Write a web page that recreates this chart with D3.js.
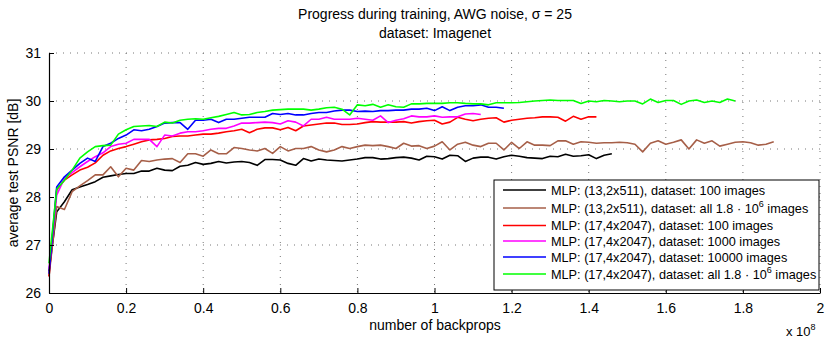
<!DOCTYPE html>
<html>
<head>
<meta charset="utf-8">
<script src="https://cdn.jsdelivr.net/npm/d3@7"></script>
<style>
  body { margin: 0; background: #fff; }
  svg text { font-family: "Liberation Sans", Arial, sans-serif; fill: #000; }
</style>
</head>
<body>
<div id="chart"></div>
<script>
// x spacing between evaluations (in units of 1e8 backprops)
var xStep = 0.02;

var xTicks = [0, 0.2, 0.4, 0.6, 0.8, 1, 1.2, 1.4, 1.6, 1.8, 2];
var yTicks = [26, 27, 28, 29, 30, 31];

var seriesNames = [
    'MLP: (13,2x511), dataset: 100 images',
    'MLP: (13,2x511), dataset: all 1.8 \u00b7 10|6| images',
    'MLP: (17,4x2047), dataset: 100 images',
    'MLP: (17,4x2047), dataset: 1000 images',
    'MLP: (17,4x2047), dataset: 10000 images',
    'MLP: (17,4x2047), dataset: all 1.8 \u00b7 10|6| images'
];
var seriesColors = ['#000000', '#a65f48', '#ff0000', '#ff00ff', '#0000ff', '#00ff00'];

var black = [26.45, 27.69, 27.90, 28.15, 28.21, 28.26, 28.32, 28.41, 28.44, 28.47,
    28.49, 28.49, 28.54, 28.54, 28.60, 28.56, 28.55, 28.64, 28.66, 28.72,
    28.68, 28.70, 28.74, 28.71, 28.73, 28.74, 28.72, 28.66, 28.78, 28.78,
    28.77, 28.70, 28.66, 28.80, 28.75, 28.79, 28.77, 28.76, 28.75, 28.77,
    28.79, 28.82, 28.82, 28.79, 28.80, 28.82, 28.83, 28.81, 28.77, 28.85,
    28.84, 28.79, 28.87, 28.86, 28.74, 28.81, 28.83, 28.83, 28.79, 28.84,
    28.87, 28.85, 28.82, 28.81, 28.80, 28.85, 28.84, 28.89, 28.85, 28.86,
    28.88, 28.80, 28.87, 28.90];

var brown = [26.35, 27.80, 27.74, 28.11, 28.23, 28.34, 28.46, 28.46, 28.63, 28.42,
    28.60, 28.56, 28.76, 28.74, 28.77, 28.79, 28.80, 28.72, 28.90, 28.90,
    28.85, 28.98, 28.90, 28.90, 29.03, 29.01, 28.98, 28.96, 29.01, 28.91,
    29.05, 28.96, 29.01, 29.01, 29.05, 28.98, 28.94, 28.98, 29.05, 29.01,
    29.05, 29.08, 29.07, 29.08, 29.05, 29.01, 29.12, 29.06, 29.07, 29.01,
    29.06, 29.15, 28.98, 29.10, 29.14, 29.08, 29.05, 29.12, 29.12, 28.98,
    29.14, 29.01, 29.15, 29.08, 29.08, 29.07, 29.17, 29.17, 29.10, 29.15,
    29.14, 29.12, 29.13, 29.13, 29.14, 29.13, 29.10, 28.94, 29.12, 29.17,
    29.10, 29.14, 29.19, 29.00, 29.19, 29.12, 29.17, 29.06, 29.10, 29.14,
    29.15, 29.13, 29.08, 29.10, 29.15];

var red = [26.34, 28.15, 28.35, 28.46, 28.56, 28.62, 28.71, 28.87, 28.96, 29.01,
    29.05, 29.10, 29.15, 29.19, 29.20, 29.22, 29.26, 29.27, 29.27, 29.29,
    29.31, 29.31, 29.33, 29.36, 29.38, 29.41, 29.34, 29.41, 29.44, 29.44,
    29.40, 29.45, 29.38, 29.48, 29.50, 29.52, 29.54, 29.54, 29.51, 29.51,
    29.52, 29.55, 29.57, 29.56, 29.56, 29.56, 29.57, 29.54, 29.57, 29.59,
    29.60, 29.52, 29.56, 29.66, 29.62, 29.59, 29.62, 29.64, 29.65, 29.56,
    29.60, 29.62, 29.64, 29.65, 29.67, 29.67, 29.66, 29.58, 29.68, 29.62,
    29.67, 29.67];

var magenta = [26.50, 28.04, 28.39, 28.51, 28.63, 28.74, 28.84, 28.92, 29.05, 29.10,
    29.12, 29.20, 29.20, 29.20, 29.05, 29.29, 29.27, 29.33, 29.36, 29.36,
    29.38, 29.41, 29.43, 29.43, 29.48, 29.54, 29.54, 29.55, 29.56, 29.55,
    29.52, 29.59, 29.56, 29.48, 29.62, 29.62, 29.66, 29.62, 29.62, 29.62,
    29.64, 29.62, 29.60, 29.69, 29.55, 29.60, 29.63, 29.69, 29.67, 29.67,
    29.69, 29.66, 29.67, 29.67, 29.73, 29.74, 29.72];

var blue = [26.40, 28.21, 28.42, 28.56, 28.70, 28.81, 28.74, 29.05, 29.12, 29.22,
    29.29, 29.40, 29.38, 29.41, 29.47, 29.54, 29.55, 29.55, 29.41, 29.60,
    29.60, 29.62, 29.55, 29.62, 29.62, 29.64, 29.66, 29.66, 29.66, 29.74,
    29.72, 29.74, 29.71, 29.71, 29.74, 29.76, 29.76, 29.79, 29.81, 29.81,
    29.78, 29.79, 29.78, 29.80, 29.80, 29.81, 29.81, 29.83, 29.83, 29.85,
    29.80, 29.88, 29.80, 29.87, 29.90, 29.90, 29.92, 29.87, 29.87, 29.85];

var green = [26.62, 28.16, 28.35, 28.56, 28.81, 28.94, 29.05, 29.07, 29.08, 29.31,
    29.40, 29.47, 29.48, 29.49, 29.47, 29.56, 29.54, 29.60, 29.62, 29.63,
    29.62, 29.65, 29.68, 29.72, 29.76, 29.71, 29.72, 29.76, 29.78, 29.81,
    29.82, 29.83, 29.83, 29.83, 29.81, 29.83, 29.86, 29.87, 29.83, 29.71,
    29.92, 29.90, 29.93, 29.87, 29.92, 29.88, 29.87, 29.94, 29.94, 29.95,
    29.95, 29.95, 29.965, 29.965, 29.95, 29.94, 29.94, 29.92, 29.965, 29.965,
    29.965, 29.97, 29.985, 30.00, 30.01, 30.02, 30.01, 30.01, 30.01, 29.95,
    30.00, 29.985, 30.01, 30.00, 29.985, 30.00, 30.00, 29.94, 30.04, 29.97,
    30.01, 30.01, 29.93, 30.00, 30.02, 29.97, 30.00, 29.97, 30.04, 30.00];

var seriesValues = [black, brown, red, magenta, blue, green];

function render() {
    var width = 830,
        height = 338,
        margin = {top: 53, right: 10, bottom: 45, left: 49};
    var plotW = width - margin.left - margin.right,
        plotH = height - margin.top - margin.bottom;

    var svg = d3.select('#chart')
      .append('svg')
        .attr('width', width)
        .attr('height', height);

    var g = svg.append('g')
        .attr('transform', 'translate(' + margin.left + ',' + margin.top + ')');

    var x = d3.scaleLinear().domain([0, 2]).range([0, plotW]);
    var y = d3.scaleLinear().domain([26, 31]).range([plotH, 0]);

    // dotted grid
    g.append('g').selectAll('line.gx')
      .data(xTicks.slice(1))
      .enter().append('line')
        .attr('x1', function(d) { return x(d); })
        .attr('x2', function(d) { return x(d); })
        .attr('y1', 0).attr('y2', plotH)
        .attr('stroke', '#777').attr('stroke-width', 1)
        .attr('stroke-dasharray', '1,6');
    g.append('g').selectAll('line.gy')
      .data(yTicks.slice(1))
      .enter().append('line')
        .attr('x1', 0).attr('x2', plotW)
        .attr('y1', function(d) { return y(d); })
        .attr('y2', function(d) { return y(d); })
        .attr('stroke', '#777').attr('stroke-width', 1)
        .attr('stroke-dasharray', '1,6');

    // the curves
    var line = d3.line()
        .x(function(d, i) { return x(i * xStep); })
        .y(function(d) { return y(d); });
    seriesValues.forEach(function(vals, k) {
        g.append('path')
          .datum(vals)
          .attr('fill', 'none')
          .attr('stroke', seriesColors[k])
          .attr('stroke-width', 1.6)
          .attr('stroke-linejoin', 'round')
          .attr('d', line);
    });

    // axes, ticks pointing inward
    var xAxis = g.append('g')
        .attr('transform', 'translate(0,' + plotH + ')')
        .call(d3.axisBottom(x).tickValues(xTicks).tickSizeInner(-5).tickSizeOuter(0)
            .tickPadding(10).tickFormat(d3.format('')));
    var yAxis = g.append('g')
        .call(d3.axisLeft(y).tickValues(yTicks).tickSizeInner(-5).tickSizeOuter(0)
            .tickPadding(8).tickFormat(d3.format('d')));
    [xAxis, yAxis].forEach(function(a) {
        a.select('.domain').attr('stroke', '#000').attr('stroke-width', 1.2);
        a.selectAll('.tick line').attr('stroke', '#000');
        a.selectAll('.tick text').style('font-size', '14px')
          .style('font-family', '"Liberation Sans", Arial, sans-serif');
    });

    // legend
    var lg = svg.append('g').attr('transform', 'translate(494,180)');
    lg.append('rect')
        .attr('width', 325).attr('height', 110)
        .attr('fill', '#fff').attr('stroke', '#000').attr('stroke-width', 1);
    var rowY = [10, 28, 45.5, 61, 77, 94];
    seriesNames.forEach(function(name, k) {
        var row = lg.append('g').attr('transform', 'translate(0,' + rowY[k] + ')');
        row.append('line')
          .attr('x1', 9).attr('x2', 52).attr('y1', 0).attr('y2', 0)
          .attr('stroke', seriesColors[k]).attr('stroke-width', 1.6);
        var t = row.append('text').attr('x', 57).attr('y', 4.5)
          .style('font-size', '12.7px');
        var parts = name.split('|');
        t.append('tspan').text(parts[0]);
        if(parts.length > 1) {
            t.append('tspan').attr('dy', -6).style('font-size', '9px').text(parts[1]);
            t.append('tspan').attr('dy', 6).text(parts[2]);
        }
    });

    // titles and labels
    svg.append('text').attr('x', 435).attr('y', 19).attr('text-anchor', 'middle')
        .style('font-size', '14px').text('Progress during training, AWG noise, \u03c3 = 25');
    svg.append('text').attr('x', 435).attr('y', 38).attr('text-anchor', 'middle')
        .style('font-size', '14px').text('dataset: Imagenet');
    svg.append('text').attr('x', 435).attr('y', 330).attr('text-anchor', 'middle')
        .style('font-size', '14px').text('number of backprops');
    svg.append('text')
        .attr('transform', 'translate(18,' + (margin.top + plotH / 2) + ') rotate(-90)')
        .attr('text-anchor', 'middle')
        .style('font-size', '14px').text('average test PSNR [dB]');
    var sci = svg.append('text').attr('x', 786).attr('y', 336).style('font-size', '13px');
    sci.append('tspan').text('x 10');
    sci.append('tspan').attr('dy', -6).style('font-size', '9px').text('8');
}

render();
</script>
</body>
</html>
